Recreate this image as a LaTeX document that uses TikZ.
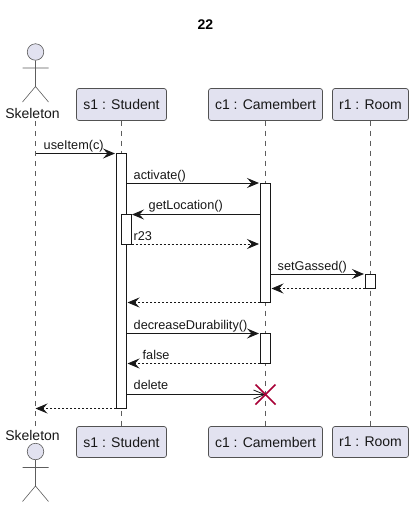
\documentclass[tikz,border=0pt]{standalone}
\usepackage{fontspec}
\setmainfont{Liberation Sans}
\usetikzlibrary{arrows.meta}
\definecolor{ink}{HTML}{181818}
\definecolor{partfill}{HTML}{E2E2F0}
\definecolor{killred}{HTML}{A80036}
\tikzset{
  x=1pt,y=-1pt,
  part/.style={draw=ink!75,line width=0.7pt,fill=partfill,rounded corners=2.5pt,minimum height=32pt,inner sep=0pt,font=\fontsize{14}{16}\selectfont,text=ink},
  lifeline/.style={draw=ink!70,line width=0.6pt,dash pattern=on 5pt off 5pt},
  actorline/.style={draw=ink!70,line width=0.6pt},
  actorlabel/.style={inner sep=0pt,font=\fontsize{14}{16}\selectfont,text=ink},
  bar/.style={draw=ink,line width=1pt,fill=white,inner sep=0pt},
  solidhead/.style={-{Stealth[length=12pt,width=10pt,inset=4.5pt,color=ink]}},
  msg/.style={draw=ink,line width=1pt,solidhead},
  ret/.style={draw=ink,line width=0.8pt,dash pattern=on 2pt off 2pt,solidhead},
  openmsg/.style={draw=ink,line width=1pt},
  lbl/.style={anchor=base west,inner sep=0pt,font=\fontsize{12.7}{15}\selectfont,text=ink},
  kill/.style={draw=killred,line width=1.5pt}
}
\newcommand{\actorfig}[2]{% #1 head centre y, #2 name
  \node[circle,draw=ink!70,line width=0.6pt,fill=partfill,minimum size=16.5pt,inner sep=0pt] (#2) at (35.5,#1) {};
  \coordinate (#2hip) at (35.5,#1+34.5);
  \coordinate (#2armL) at (22.5,#1+16);
  \coordinate (#2armR) at (48.5,#1+16);
  \coordinate (#2legL) at (22.5,#1+50);
  \coordinate (#2legR) at (48.5,#1+50);
  \draw[actorline] (#2.south) -- (#2hip) (#2armL) -- (#2armR) (#2legL) -- (#2hip) -- (#2legR);
}
\begin{document}
\begin{tikzpicture}
\useasboundingbox (0,0) rectangle (413,507);
\fill[white] (0,0) rectangle (413,507);
\node[inner sep=0pt,font=\fontsize{14}{16}\selectfont\bfseries,text=black] (title) at (205.5,25) {22};

% participants
\node[part,minimum width=90pt] (s1top) at (121.5,104.5) {s1 : Student};
\node[part,minimum width=114pt] (c1top) at (265.5,104.5) {c1 : Camembert};
\node[part,minimum width=76pt] (r1top) at (370.5,104.5) {r1 : Room};
\node[part,minimum width=90pt,minimum height=31pt] (s1bot) at (121.5,442) {s1 : Student};
\node[part,minimum width=114pt,minimum height=31pt] (c1bot) at (265.5,442) {c1 : Camembert};
\node[part,minimum width=76pt,minimum height=31pt] (r1bot) at (370.5,442) {r1 : Room};
\node[actorlabel] (sktop) at (32.5,113) {Skeleton};
\node[actorlabel] (skbot) at (32.5,435) {Skeleton};
\coordinate (sktopl) at (35.5,121);
\coordinate (skbotl) at (35.5,426);

% lifelines
\draw[lifeline] (sktopl) -- (skbotl);
\draw[lifeline] (s1top) ++(0,16) -- (s1bot.north);
\draw[lifeline] (c1top) ++(0,16) -- (c1bot.north);
\draw[lifeline] (r1top) ++(0,16) -- (r1bot.north);

% actors
\actorfig{52}{acttop}
\actorfig{451.5}{actbot}

% activation bars
\node[bar,minimum width=10pt,minimum height=255pt] (s1a) at (121.5,281) {};
\node[bar,minimum width=10pt,minimum height=30pt] (s1b) at (126,229.5) {};
\node[bar,minimum width=10pt,minimum height=119pt] (c1a) at (265.5,242.5) {};
\node[bar,minimum width=10pt,minimum height=30pt] (c1b) at (265.5,348.5) {};
\node[bar,minimum width=10pt,minimum height=14pt] (r1a) at (370.5,281) {};

% message rows
\coordinate (m1) at (0,153.5);
\coordinate (m2) at (0,183);
\coordinate (m3) at (0,214.5);
\coordinate (m4) at (0,244);
\coordinate (m5) at (0,274);
\coordinate (m6) at (0,288.5);
\coordinate (m7) at (0,302.5);
\coordinate (m8) at (0,333.5);
\coordinate (m9) at (0,363.5);
\coordinate (m10) at (0,394.5);
\coordinate (m11) at (0,408.5);
\coordinate (killc) at (265.5,394.5);

\draw[msg] (sktopl |- m1) -- ([xshift=-1pt]s1a.west |- m1);
\draw[msg] (s1a.east |- m2) -- ([xshift=-1pt]c1a.west |- m2);
\draw[msg] (c1a.west |- m3) -- ([xshift=0.5pt]s1b.east |- m3);
\draw[ret] (s1b.east |- m4) -- ([xshift=-1pt]c1a.west |- m4);
\draw[msg] (c1a.east |- m5) -- ([xshift=-1pt]r1a.west |- m5);
\draw[ret] (r1a.west |- m6) -- ([xshift=0.5pt]c1a.east |- m6);
\draw[ret] (c1a.west |- m7) -- ([xshift=0.5pt]s1a.east |- m7);
\draw[msg] (s1a.east |- m8) -- ([xshift=-1pt]c1b.west |- m8);
\draw[ret] (c1b.west |- m9) -- ([xshift=0.5pt]s1a.east |- m9);
\draw[openmsg] (s1a.east |- m10) -- (killc);
\draw[openmsg,line width=0.8pt] ([shift={(-12,-4.5)}]killc) -- ([xshift=-1pt]killc) -- ([shift={(-12,4.5)}]killc);
\draw[ret] (s1a.west |- m11) -- (sktopl |- m11);

% destroy mark
\draw[kill] ([shift={(-10,-10)}]killc) -- ([shift={(10,10)}]killc);
\draw[kill] ([shift={(-10,10)}]killc) -- ([shift={(10,-10)}]killc);

% labels
\node[lbl] (l1) at (43.5,149) {useItem(c)};
\node[lbl] (l2) at (133.5,179) {activate()};
\node[lbl] (l3) at (148.5,209.5) {getLocation()};
\node[lbl] (l4) at (133.5,240) {r23};
\node[lbl] (l5) at (277.5,270) {setGassed()};
\node[lbl] (l6) at (133.5,329) {decreaseDurability()};
\node[lbl] (l7) at (142.5,359) {false};
\node[lbl] (l8) at (133.5,389.5) {delete};
\end{tikzpicture}
\end{document}
